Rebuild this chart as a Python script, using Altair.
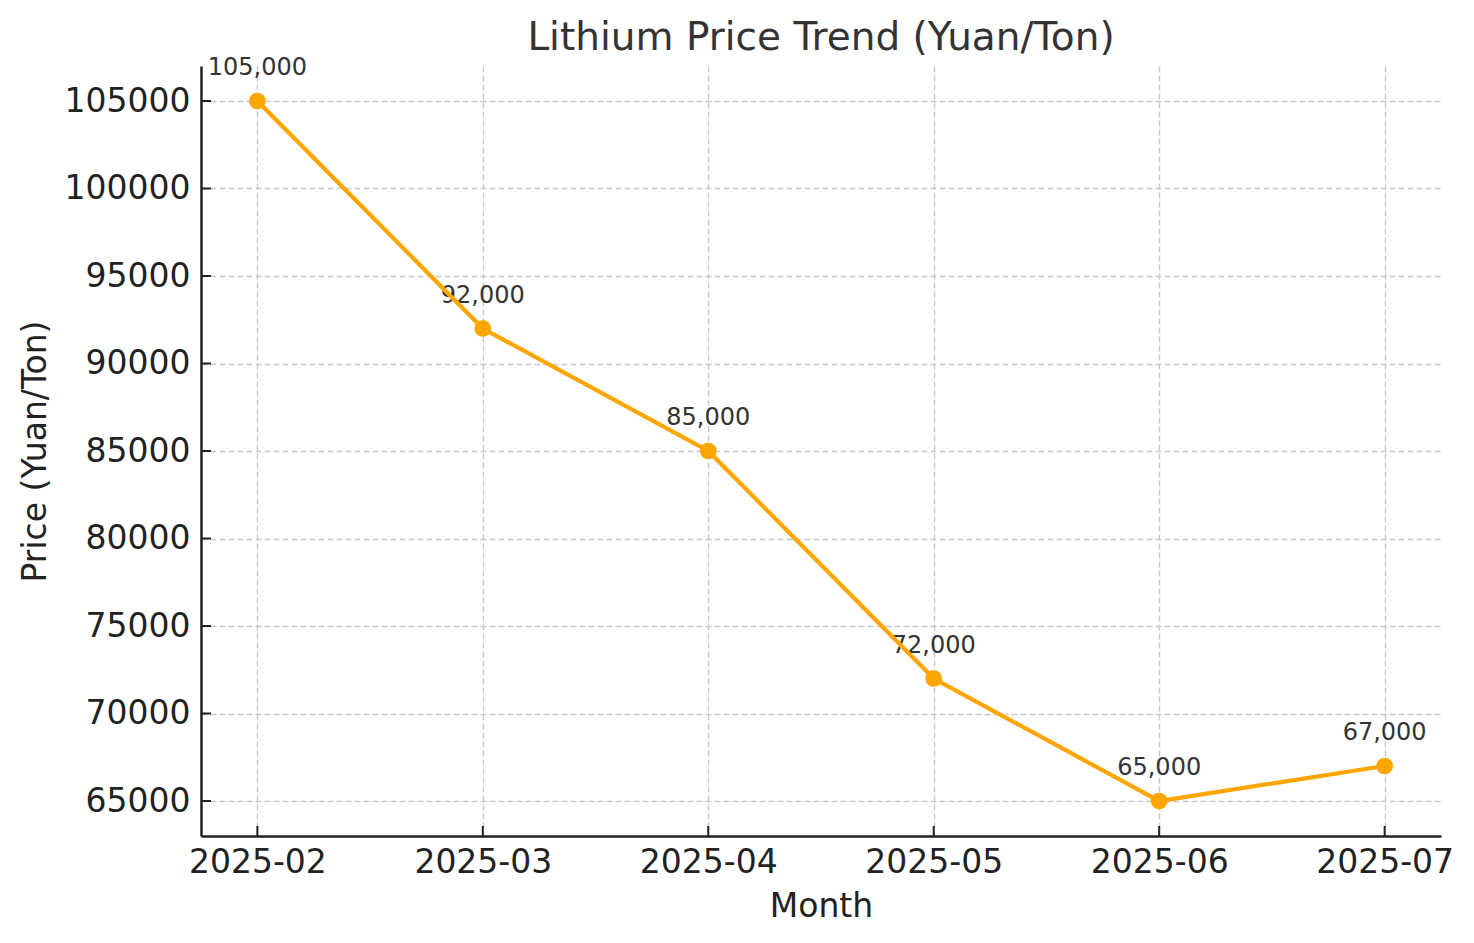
import altair as alt
import pandas as pd

# ---- data ----
months = ["2025-02", "2025-03", "2025-04", "2025-05", "2025-06", "2025-07"]
prices = [105000, 92000, 85000, 72000, 65000, 67000]
y_ticks = [65000, 70000, 75000, 80000, 85000, 90000, 95000, 100000, 105000]
title_text = ["Lithium Price Trend (Yuan/Ton)"]

df = pd.DataFrame({"month": months, "price": prices})
tick_df = pd.DataFrame({"price": y_ticks})
title_df = pd.DataFrame({"t": title_text})

FONT = "DejaVu Sans"
ORANGE = "#FFA500"
DARK = "#222222"

xs = alt.Scale(type="point", padding=0.25)
ys = alt.Scale(domain=[63000, 107000], nice=False, zero=False)

x_axis = alt.Axis(
    title="Month", labelAngle=0, labelFontSize=33, labelFont=FONT, labelColor=DARK,
    labelPadding=10, ticks=False, tickSize=0,
    domainColor=DARK, domainWidth=2.5,
    grid=True, gridColor="#c8c8c8", gridDash=[6, 3], gridWidth=1.4,
    titleFontSize=33, titleFont=FONT, titleColor=DARK, titleFontWeight="normal",
    titleX=620, titleY=80, titleBaseline="alphabetic", titleAlign="center",
)
y_axis = alt.Axis(
    title="Price (Yuan/Ton)", values=y_ticks, format="d",
    labelFontSize=33, labelFont=FONT, labelColor=DARK, labelPadding=11,
    ticks=False, tickSize=0,
    domainColor=DARK, domainWidth=2.5,
    grid=True, gridColor="#c8c8c8", gridDash=[6, 3], gridWidth=1.4,
    titleFontSize=33, titleFont=FONT, titleColor=DARK, titleFontWeight="normal",
    titleAngle=270, titleX=-156, titleY=385, titleBaseline="alphabetic", titleAlign="center",
)

base = alt.Chart(df)

xticks = base.mark_rule(color=DARK, strokeWidth=2).encode(
    x=alt.X("month:O", axis=x_axis, scale=xs),
    y=alt.value(770), y2=alt.value(760),
)
yticks = alt.Chart(tick_df).mark_rule(color=DARK, strokeWidth=2).encode(
    y=alt.Y("price:Q", axis=y_axis, scale=ys),
    x=alt.value(0), x2=alt.value(10),
)
labels = base.mark_text(
    fontSize=24, font=FONT, color="#333333", dy=-26, baseline="alphabetic", align="center"
).encode(
    x=alt.X("month:O", axis=x_axis, scale=xs),
    y=alt.Y("price:Q", axis=y_axis, scale=ys),
    text=alt.Text("price:Q", format=","),
)
line = base.mark_line(
    color=ORANGE, strokeWidth=4.2,
    point=alt.OverlayMarkDef(filled=True, size=280, color=ORANGE, opacity=1),
).encode(
    x=alt.X("month:O", axis=x_axis, scale=xs),
    y=alt.Y("price:Q", axis=y_axis, scale=ys),
)
title = alt.Chart(title_df).mark_text(
    fontSize=39, font=FONT, color="#333333", baseline="alphabetic", align="center"
).encode(
    text="t:N", x=alt.value(620), y=alt.value(-16),
)

chart = alt.layer(xticks, yticks, labels, line, title).properties(
    width=1240, height=770,
    autosize=alt.AutoSizeParams(type="none"),
    padding={"left": 193, "top": 58, "right": 25, "bottom": 99},
).configure(
    background="white",
    view=alt.ViewConfig(stroke="transparent", strokeWidth=0),
)

chart.save("out.html", embed_options={"renderer": "svg", "actions": False})
